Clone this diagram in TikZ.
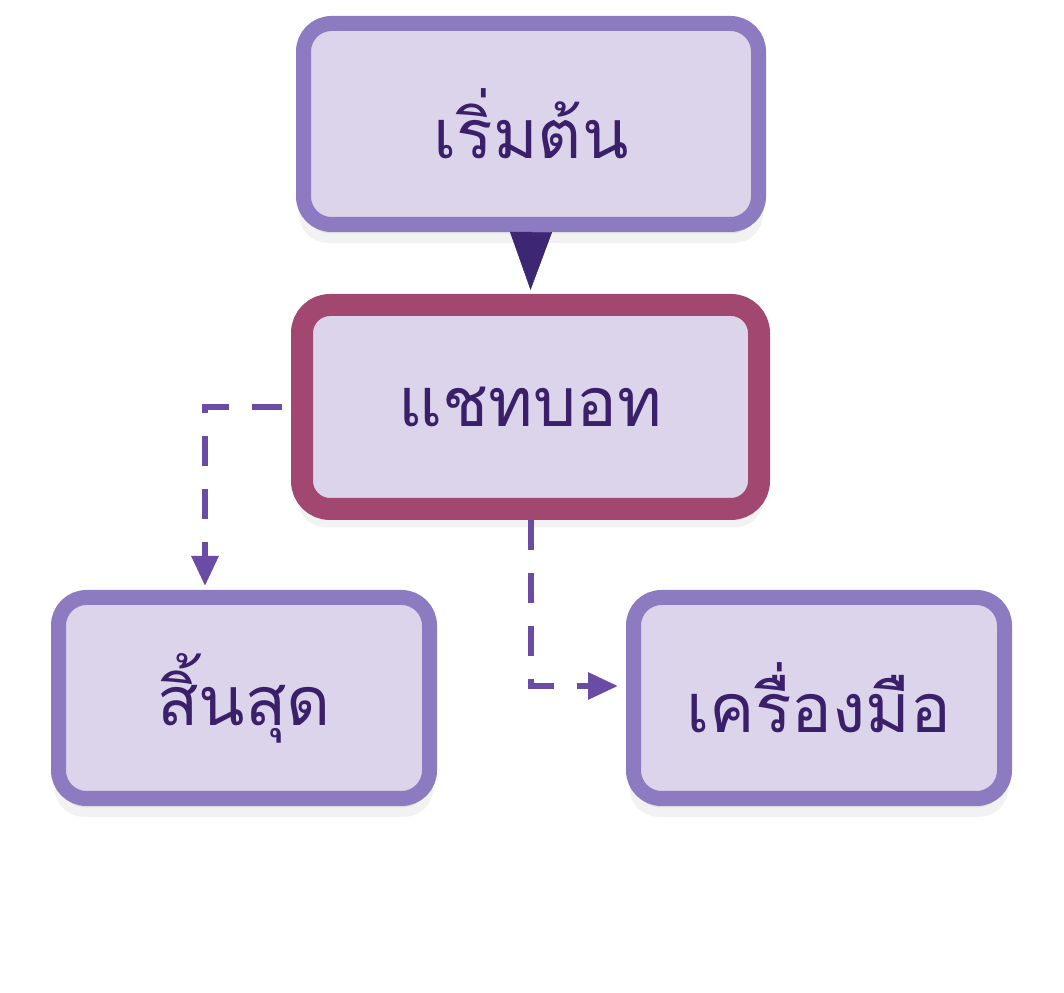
\documentclass[tikz,border=0pt]{standalone}
\usepackage{fontspec}
\newfontfamily\thaifont[Script=Thai]{Loma}
\usetikzlibrary{arrows.meta,shadows}
\definecolor{boxframe}{RGB}{140,123,192}
\definecolor{boxfill}{RGB}{220,212,234}
\definecolor{chatframe}{RGB}{162,72,112}
\definecolor{flowsolid}{RGB}{61,38,115}
\definecolor{flowdash}{RGB}{106,76,164}
\definecolor{labeltext}{RGB}{58,31,106}
\begin{document}
\begin{tikzpicture}[x=1pt,y=1pt,
		stepbox/.style={draw=boxframe, line width=15pt, fill=boxfill, rounded corners=28pt,
			minimum width=455pt, minimum height=201pt, text=labeltext,
			font=\thaifont\fontsize{68}{80}\selectfont,
			general shadow={shadow xshift=0pt, shadow yshift=-16pt, shadow scale=1.02,
				fill=black, draw=none, opacity=0.05},
			general shadow={shadow xshift=0pt, shadow yshift=-9pt,
				fill=black, draw=none, opacity=0.08}},
		chatbox/.style={stepbox, draw=chatframe, line width=22pt, minimum width=457pt, minimum height=204pt},
		endbox/.style={stepbox, minimum width=371pt},
		dashflow/.style={draw=flowdash, line width=6pt, dash pattern=on 30pt off 23pt,
			-{Triangle[length=30pt,width=26pt]}}]
		\useasboundingbox[fill=white] (0,0) rectangle (1064,992);
		
		\node[stepbox] (start) at (531,868) {เริ่มต้น};
		\node[chatbox] (chat) at (530.5,585) {แชทบอท};
		\node[endbox] (finish) at (244,294) {สิ้นสุด};
		\node[endbox] (tool) at (819,294) {เครื่องมือ};
		
		\coordinate (finishin) at (205,404);
		\coordinate (toolin) at (626,306);
		
		\draw[flowsolid, line width=0.5pt, shorten >=4pt,
			-{Triangle[length=58pt,width=42pt]}] (start.south) -- (chat.north);
		\draw[dashflow, shorten <=9pt, shorten >=2pt] (chat.west) -| (finishin);
		\draw[dashflow, shorten >=8pt] (chat.south) |- (toolin);
		\end{tikzpicture}
\end{document}
